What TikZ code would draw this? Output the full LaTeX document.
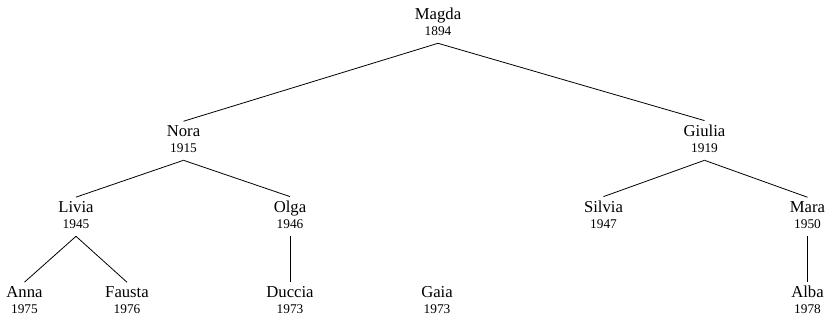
\documentclass[tikz,border=0pt]{standalone}
\usepackage{fontspec}
\setmainfont{Liberation Serif}
\newcommand{\person}[2]{#1\\{\fontsize{10}{11.8}\selectfont #2\rule[-2.1pt]{0pt}{2.1pt}}}

\begin{document}
\begin{tikzpicture}[x=0.75pt,y=0.75pt,yscale=-1,xscale=1,
  member/.style={align=center,anchor=base,inner xsep=2pt,inner ysep=3.4pt,font=\fontsize{12.5}{11.8}\selectfont},
  kin/.style={line width=0.6pt}]
\useasboundingbox (0,0) rectangle (834,323);

% Text Node
\node[member] (magda) at (438,35.7) {\person{Magda}{1894}};
% Text Node
\node[member] (nora) at (183.5,152.7) {\person{Nora}{1915}};
% Text Node
\node[member] (giulia) at (704.5,152.7) {\person{Giulia}{1919}};
% Text Node
\node[member] (livia) at (76,228.7) {\person{Livia}{1945}};
% Text Node
\node[member] (olga) at (290,228.7) {\person{Olga}{1946}};
% Text Node
\node[member] (silvia) at (603.5,228.7) {\person{Silvia}{1947}};
% Text Node
\node[member] (mara) at (807.5,228.7) {\person{Mara}{1950}};
% Text Node
\node[member] (anna) at (24.5,313.7) {\person{Anna}{1975}};
% Text Node
\node[member] (fausta) at (127,313.7) {\person{Fausta}{1976}};
% Text Node
\node[member] (duccia) at (290,313.7) {\person{Duccia}{1973}};
% Text Node
\node[member] (gaia) at (437,313.7) {\person{Gaia}{1973}};
% Text Node
\node[member] (alba) at (807.5,313.7) {\person{Alba}{1978}};

%Straight Lines
\draw[kin] (magda.south) -- (nora.north);
\draw[kin] (magda.south) -- (giulia.north);
%Straight Lines
\draw[kin] (nora.south) -- (livia.north);
\draw[kin] (nora.south) -- (olga.north);
%Straight Lines
\draw[kin] (giulia.south) -- (silvia.north);
\draw[kin] (giulia.south) -- (mara.north);
%Straight Lines
\draw[kin] (livia.south) -- (anna.north);
\draw[kin] (livia.south) -- (fausta.north);
\draw[kin] (olga.south) -- (duccia.north);
\draw[kin] (mara.south) -- (alba.north);

\end{tikzpicture}
\end{document}
